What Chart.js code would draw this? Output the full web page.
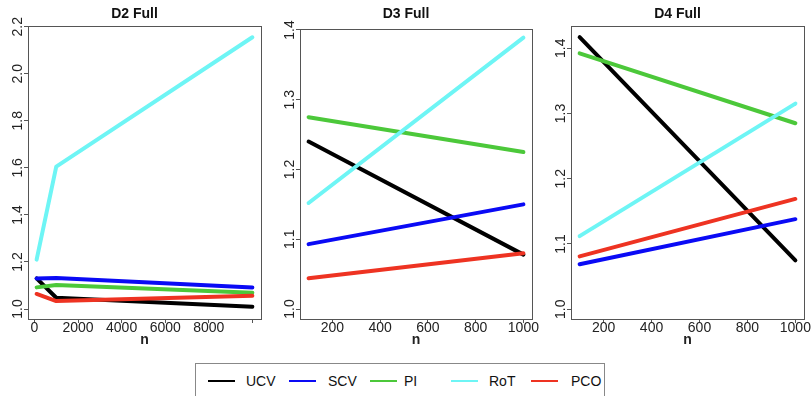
<!DOCTYPE html>
<html><head><meta charset="utf-8">
<script src="https://cdn.jsdelivr.net/npm/chart.js@4.4.1/dist/chart.umd.min.js"></script>
<style>
html,body{margin:0;padding:0;background:#fff;width:811px;height:396px;overflow:hidden;}
canvas{position:absolute;left:0;top:0;}
#legend{position:absolute;left:195px;top:363px;width:410px;height:40px;border:1px solid #888;box-sizing:border-box;font-family:"Liberation Sans",Arial,Helvetica,sans-serif;font-size:14px;color:#111;background:#fff;}
.sw{position:absolute;height:2px;width:27px;top:16px;}
.lt{position:absolute;top:7px;height:20px;line-height:20px;white-space:nowrap;}
</style></head><body>
<canvas id="c1" width="811" height="350"></canvas>
<canvas id="c2" width="811" height="350"></canvas>
<canvas id="c3" width="811" height="350"></canvas>
<div id="legend"></div>
<script>
// ---- data ----
const seriesNames = ["UCV", "SCV", "PI", "RoT", "PCO"];
const seriesColors = ["#000000", "#0a0af5", "#4cc83a", "#6ef5f5", "#ee3322"];

const nD2 = [100, 1000, 10000];
const ucvD2 = [1.130, 1.048, 1.010];
const scvD2 = [1.130, 1.132, 1.092];
const piD2  = [1.092, 1.102, 1.069];
const rotD2 = [1.210, 1.605, 2.155];
const pcoD2 = [1.064, 1.034, 1.056];

const nD3 = [100, 1000];
const ucvD3 = [1.240, 1.078];
const scvD3 = [1.093, 1.150];
const piD3  = [1.275, 1.225];
const rotD3 = [1.152, 1.389];
const pcoD3 = [1.044, 1.080];

const nD4 = [100, 1000];
const ucvD4 = [1.417, 1.075];
const scvD4 = [1.069, 1.138];
const piD4  = [1.392, 1.285];
const rotD4 = [1.112, 1.315];
const pcoD4 = [1.081, 1.169];

const xTicksD2 = [0, 2000, 4000, 6000, 8000, 10000];
const xTickLabelsD2 = ["0", "2000", "4000", "6000", "8000", ""];
const xTicksD34 = [200, 400, 600, 800, 1000];
const xTickLabelsD34 = ["200", "400", "600", "800", "1000"];
const yTicksD2 = [1.0, 1.2, 1.4, 1.6, 1.8, 2.0, 2.2];
const yTickLabelsD2 = ["1.0", "1.2", "1.4", "1.6", "1.8", "2.0", "2.2"];
const yTicksD34 = [1.0, 1.1, 1.2, 1.3, 1.4];
const yTickLabelsD34 = ["1.0", "1.1", "1.2", "1.3", "1.4"];

// ---- rendering ----
Chart.defaults.font.family = '"Liberation Sans", Arial, Helvetica, sans-serif';
const FONT = '"Liberation Sans", Arial, Helvetica, sans-serif';

const rPlugin = {
  id: 'rstyle',
  beforeDatasetsDraw(chart) {
    const {ctx, chartArea: a} = chart;
    ctx.save();
    ctx.strokeStyle = '#555';
    ctx.lineWidth = 1;
    ctx.strokeRect(Math.round(a.left) + 0.5, Math.round(a.top) + 0.5,
                   Math.round(a.right - a.left), Math.round(a.bottom - a.top));
    ctx.restore();
  },
  afterDraw(chart) {
    const {ctx, chartArea: a} = chart;
    const ys = chart.scales.y;
    const labels = chart.options.plugins.rstyle.yLabels;
    ctx.save();
    ctx.fillStyle = '#222';
    ctx.font = '14px ' + FONT;
    ctx.textAlign = 'center';
    ctx.textBaseline = 'alphabetic';
    ys.ticks.forEach((t, i) => {
      const p = ys.getPixelForValue(t.value);
      ctx.save();
      ctx.translate(a.left - 6, p);
      ctx.rotate(-Math.PI / 2);
      ctx.fillText(labels[i], 0, 0);
      ctx.restore();
    });
    ctx.restore();
  }
};

function makeChart(id, title, xs, series, xr, yr, xt, xtl, yt, ytl, box, titleBottomPad) {
  const datasets = series.map((vals, i) => ({
    label: seriesNames[i],
    data: xs.map((x, j) => ({x: x, y: vals[j]})),
    borderColor: seriesColors[i],
    backgroundColor: seriesColors[i],
    borderWidth: 4,
    pointRadius: 0,
    fill: false,
    tension: 0,
    borderCapStyle: 'round',
    borderJoinStyle: 'round',
    order: series.length - i
  }));
  const yW = 20;
  new Chart(document.getElementById(id), {
    type: 'line',
    data: {datasets},
    options: {
      responsive: false,
      animation: false,
      devicePixelRatio: 1,
      events: [],
      layout: {padding: {left: box.left - yW, right: 811 - box.right, top: 0, bottom: 0}},
      plugins: {
        legend: {display: false},
        tooltip: {enabled: false},
        title: {display: true, text: title, color: '#111',
                font: {size: 14, weight: 'bold', family: FONT},
                padding: {top: 5.3, bottom: titleBottomPad}},
        rstyle: {yLabels: ytl}
      },
      scales: {
        x: {
          type: 'linear', min: xr[0], max: xr[1],
          afterBuildTicks: s => { s.ticks = xt.map(v => ({value: v})); },
          afterFit: s => { s.height = 31; s.paddingLeft = 0; s.paddingRight = 0; },
          ticks: {autoSkip: false, maxRotation: 0, minRotation: 0, padding: -3,
                  color: '#222', font: {size: 14, family: FONT},
                  callback: (v, i) => xtl[i]},
          grid: {display: true, drawOnChartArea: false, drawTicks: true, tickLength: 4, color: '#555', lineWidth: 1},
          border: {display: false},
          title: {display: true, text: 'n', color: '#222', font: {size: 14, weight: 'bold', family: FONT},
                  padding: {top: 0, bottom: 1.6}}
        },
        y: {
          type: 'linear', min: yr[0], max: yr[1],
          afterBuildTicks: s => { s.ticks = yt.map(v => ({value: v})); },
          afterFit: s => { s.width = yW; s.paddingTop = 0; s.paddingBottom = 0; },
          ticks: {display: false},
          grid: {display: true, drawOnChartArea: false, drawTicks: true, tickLength: 4, color: '#555', lineWidth: 1},
          border: {display: false}
        }
      }
    },
    plugins: [rPlugin]
  });
}

makeChart('c1', 'D2 Full', nD2, [ucvD2, scvD2, piD2, rotD2, pcoD2],
  [-296, 10396], [0.9576, 2.203], xTicksD2, xTickLabelsD2, yTicksD2, yTickLabelsD2,
  {left: 28, right: 261}, 3.9);
makeChart('c2', 'D3 Full', nD3, [ucvD3, scvD3, piD3, rotD3, pcoD3],
  [64, 1036], [0.9857, 1.4014], xTicksD34, xTickLabelsD34, yTicksD34, yTickLabelsD34,
  {left: 300, right: 532}, 6.9);
makeChart('c3', 'D4 Full', nD4, [ucvD4, scvD4, piD4, rotD4, pcoD4],
  [64, 1036], [0.985, 1.434], xTicksD34, xTickLabelsD34, yTicksD34, yTickLabelsD34,
  {left: 571, right: 804}, 3.9);

// legend (HTML)
const lg = document.getElementById('legend');
const swLeft = [12, 93, 174, 255, 335];
const txLeft = [50, 132, 208, 293, 375];
seriesNames.forEach((name, i) => {
  const s = document.createElement('div');
  s.className = 'sw'; s.style.left = swLeft[i] + 'px'; s.style.background = seriesColors[i];
  lg.appendChild(s);
  const t = document.createElement('div');
  t.className = 'lt'; t.style.left = txLeft[i] + 'px'; t.textContent = name;
  lg.appendChild(t);
});
</script>
</body></html>
